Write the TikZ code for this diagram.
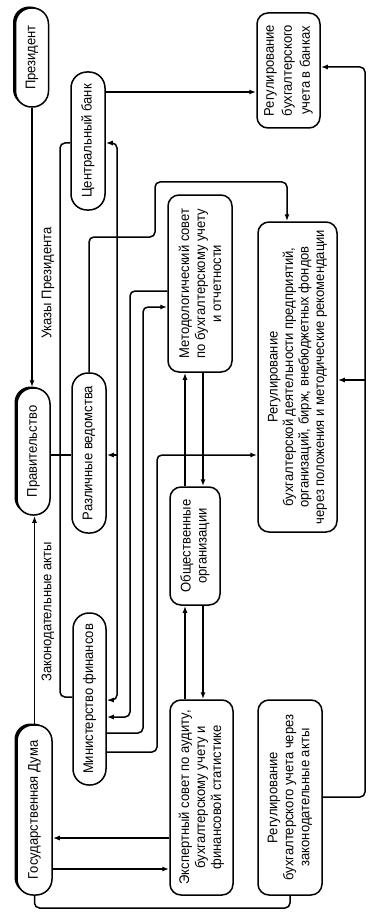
\documentclass[tikz,border=0pt]{standalone}
\usepackage{fontspec}
\setmainfont[FakeStretch=0.93]{Liberation Sans}
\usetikzlibrary{arrows.meta,shadows}
\tikzset{
  blok/.style={draw,fill=white,line width=1.5pt,rotate=90,align=center,inner sep=1pt,
    font=\fontsize{14}{16}\selectfont},
  oval/.style={blok,rounded corners=16pt},
  ramka/.style={blok,rounded corners=11pt},
  ten/.style={general shadow={fill=black,shadow xshift=-2.5pt,shadow yshift=1.5pt}},
  svyaz/.style={line width=1.5pt,rounded corners=5pt},
  strelka/.style={svyaz,-{Latex[length=7pt,width=5pt]}},
  dvustr/.style={svyaz,{Latex[length=7pt,width=5pt]}-{Latex[length=7pt,width=5pt]}},
  podpis/.style={rotate=90,font=\fontsize{14}{16}\selectfont,inner sep=1pt}
}
\begin{document}
\begin{tikzpicture}[x=1pt,y=-1pt]
\useasboundingbox (0,0) rectangle (380,912);
% bloki
\node[oval,ten,minimum width=99pt,minimum height=33pt] (prez) at (32,57.5) {Президент};
\node[oval,minimum width=138pt,minimum height=34pt] (cb) at (88,141) {Центральный банк};
\node[ramka,minimum width=115pt,minimum height=63pt,font=\fontsize{14}{18}\selectfont] (rbank) at (288.5,70.5) {Регулирование\\бухгалтерского\\учета в банках};
\node[ramka,minimum width=177pt,minimum height=64pt] (metod) at (200,283.5) {Методологический совет\\по бухгалтерскому учету\\и отчетности};
\node[ramka,minimum width=310pt,minimum height=79pt,font=\fontsize{14}{15.5}\selectfont] (rmain) at (297.5,377) {Регулирование\\бухгалтерской деятельности предприятий,\\организаций, бирж, внебюджетных фондов\\через положения и методические рекомендации};
\node[oval,ten,minimum width=127pt,minimum height=33pt] (prav) at (33.5,451.5) {Правительство};
\node[oval,minimum width=160pt,minimum height=34pt] (vedom) at (89,453) {Различные ведомства};
\node[ramka,minimum width=118pt,minimum height=50pt] (obsh) at (195,546) {Общественные\\организации};
\node[oval,minimum width=172pt,minimum height=33pt] (minfin) at (89.5,699) {Министерство финансов};
\node[oval,ten,minimum width=170pt,minimum height=35pt] (duma) at (34.5,810) {Государственная Дума};
\node[ramka,minimum width=195pt,minimum height=63pt] (expert) at (201.5,797.5) {Экспертный совет по аудиту,\\бухгалтерскому учету и\\финансовой статистике};
\node[ramka,minimum width=195pt,minimum height=64pt] (ract) at (290,797.5) {Регулирование\\бухгалтерского учета через\\законодательные акты};
% svyazi
\draw[strelka] (prez.west) -- (prez.west |- prav.east);
\draw[strelka] (duma.east) -- (duma.east |- prav.west);
\node[podpis] (ukaz) at (48,283) {Указы Президента};
\node[podpis] (zakon) at (48,612) {Законодательные акты};
\draw[strelka] (cb.south |- 0,92) -- (rbank.north |- 0,92);
\draw[svyaz] (prav.south |- 0,455) -- (vedom.north |- 0,455);
\draw[svyaz] (cb.north |- 0,143) -- (60,143) -- (60,697) -- (minfin.north |- 0,697);
\draw[dvustr] (cb.south |- 0,143) -- (117,143) -- (117,700) -- (minfin.south |- 0,700);
\coordinate (jv) at (117,455);
\draw[strelka] (jv) -- (vedom.south |- jv);
\draw[strelka] (metod.north |- 0,291) -- (130,291) -- (130,717) -- (minfin.south |- 0,717);
\draw[strelka] (minfin.south |- 0,733) -- (143,733) -- (143,307) -- (metod.north |- 0,307);
\draw[strelka] (minfin.south |- 0,752) -- (157,752) -- (157,455) -- (rmain.north |- 0,455);
\draw[strelka] (vedom.east) -- (vedom.east |- 0,237) -- (155,237) -- (155,182) -- (287,182) -- (287,0 |- rmain.east);
\draw[strelka] (203,0 |- metod.west) -- (203,0 |- obsh.east);
\draw[strelka] (185,0 |- obsh.east) -- (185,0 |- metod.west);
\draw[strelka] (203,0 |- obsh.west) -- (203,0 |- expert.east);
\draw[strelka] (185,0 |- expert.east) -- (185,0 |- obsh.west);
\draw[strelka] (expert.north |- 0,838) -- (duma.south |- 0,838);
\draw[strelka] (duma.south |- 0,869) -- (expert.north |- 0,869);
\draw[svyaz] (duma.west) -- (duma.west |- 0,908) -- (290,908) -- (ract.west);
\draw[strelka] (ract.south |- 0,797) -- (365,797) -- (365,67) -- (rbank.south |- 0,67);
\coordinate (jr) at (365,380);
\draw[strelka] (jr) -- (rmain.south |- jr);
\end{tikzpicture}
\end{document}
